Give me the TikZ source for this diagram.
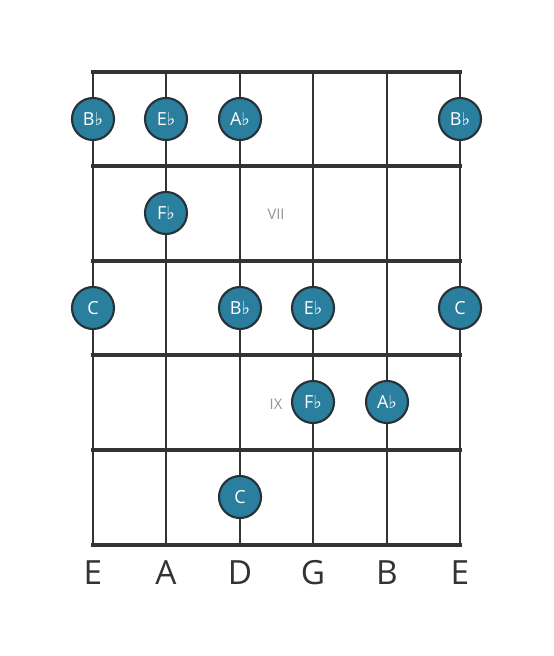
\documentclass[tikz,border=0pt]{standalone}
\usepackage{fontspec}
\setmainfont{Open Sans}
\newfontfamily\flatfont{DejaVu Sans}
\definecolor{notefill}{HTML}{2A7F9E}
\definecolor{noteline}{HTML}{263238}
\definecolor{gridline}{HTML}{333333}
\newcommand{\fl}{{\flatfont\char"266D}}
\tikzset{
  notedot/.style={circle, draw=noteline, line width=1.6pt, fill=notefill,
    minimum size=31.5pt, inner sep=0pt, text=white, font=\fontsize{13.5}{13.5}\selectfont},
  fretnum/.style={text=gray!85, font=\fontsize{11}{11}\selectfont},
  stringname/.style={text=gridline, font=\fontsize{25}{25}\selectfont}
}
\begin{document}
\begin{tikzpicture}[x=0.75pt, y=-0.75pt]
                \useasboundingbox (0,0) rectangle (553,656);
                % strings
                \foreach \s in {93,166,240,313,387,460}
                    \draw[gridline, line width=2pt] (\s,72) -- (\s,545);
                % frets
                \foreach \f in {166,261,355,450}
                    \draw[gridline, line width=3.2pt] (91,\f) -- (462,\f);
                \draw[gridline, line width=3.6pt] (91,72) -- (462,72);
                \draw[gridline, line width=3.6pt] (91,545) -- (462,545);
                % fret numbers
                \node[fretnum] (vii) at (276,214) {VII};
                \node[fretnum] (ix) at (276,404) {IX};
                % notes
                \node[notedot] (n1a) at (93,119) {B\fl};
                \node[notedot] (n1b) at (166,119) {E\fl};
                \node[notedot] (n1c) at (240,119) {A\fl};
                \node[notedot] (n1d) at (460,119) {B\fl};
                \node[notedot] (n2a) at (166,213) {F\fl};
                \node[notedot] (n3a) at (93,308) {C};
                \node[notedot] (n3b) at (240,308) {B\fl};
                \node[notedot] (n3c) at (313,308) {E\fl};
                \node[notedot] (n3d) at (460,308) {C};
                \node[notedot] (n4a) at (313,402) {F\fl};
                \node[notedot] (n4b) at (387,402) {A\fl};
                \node[notedot] (n5a) at (240,497) {C};
                % string names
                \node[stringname] (sE) at (93,573) {E};
                \node[stringname] (sA) at (166,573) {A};
                \node[stringname] (sD) at (240,573) {D};
                \node[stringname] (sG) at (313,573) {G};
                \node[stringname] (sB) at (387,573) {B};
                \node[stringname] (se) at (460,573) {E};
\end{tikzpicture}
\end{document}
